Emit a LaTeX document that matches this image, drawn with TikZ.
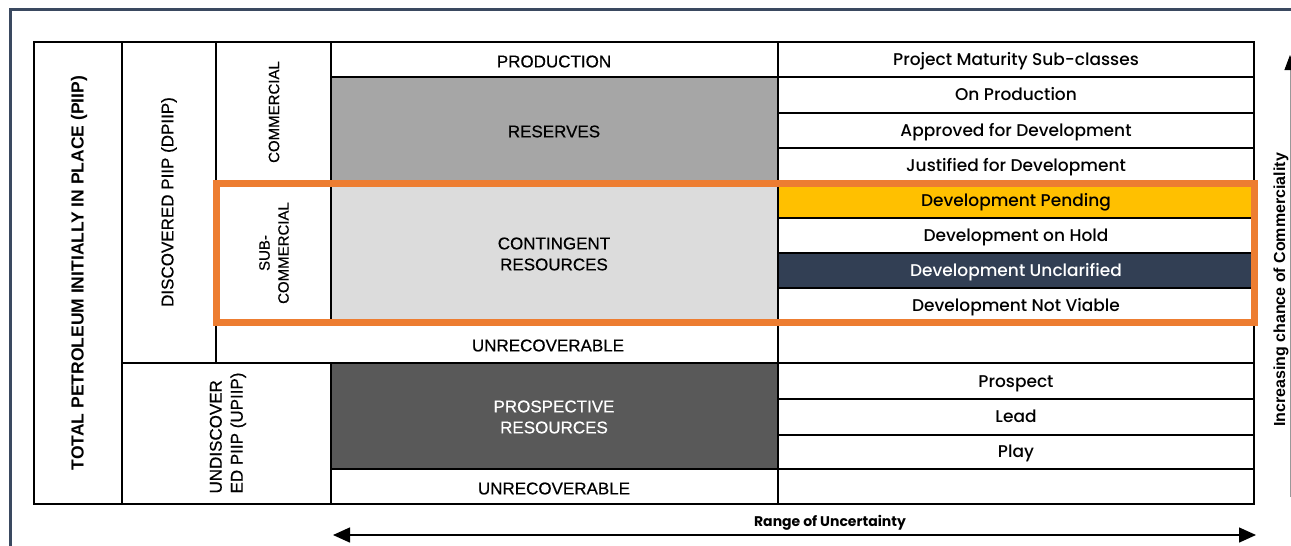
\documentclass[tikz,border=0pt]{standalone}
\usepackage{fontspec}
\setmainfont{Liberation Sans}
\newfontfamily\hdrfont{Liberation Sans}[FakeBold=0.5]
\newfontfamily\popfont{Poppins}[UprightFont=* Medium, BoldFont=* Bold]
\usetikzlibrary{arrows.meta}
\definecolor{framenavy}{HTML}{3A4960}
\definecolor{navyfill}{HTML}{323F54}
\definecolor{pendyellow}{HTML}{FFC000}
\definecolor{boxorange}{HTML}{ED7D31}
\definecolor{resgray}{HTML}{A6A6A6}
\definecolor{contgray}{HTML}{DCDCDC}
\definecolor{prospgray}{HTML}{595959}
\tikzset{
  gridline/.style={line width=2.6pt, draw=black},
  hdr/.style={font=\hdrfont\fontsize{17}{21}\selectfont, align=center, inner sep=0pt},
  smallhdr/.style={font=\hdrfont\fontsize{15}{19}\selectfont, align=center, inner sep=0pt},
  subtext/.style={font=\popfont\fontsize{17}{20}\selectfont, inner sep=0pt, text height=12pt, text depth=3.5pt},
}
\def\subrow(#1)#2#3{\node[subtext] (#2) at (1016,#1) {#3};}

\begin{document}
\begin{tikzpicture}[x=1pt,y=-1pt]
		%%%%% START %%%%%
		\useasboundingbox (0,0) rectangle (1291,546);
		
		% outer frame
		\draw[line width=3pt, framenavy] (10,546) -- (10,9) -- (1291,9);
		
		% fills
		\fill[resgray] (331,77) rectangle (778,183);
		\fill[contgray] (331,183) rectangle (778,323);
		\fill[prospgray] (331,363) rectangle (778,469);
		\fill[pendyellow] (778,183) rectangle (1254,218);
		\fill[navyfill] (778,253) rectangle (1254,288);
		
		% table lines
		\draw[gridline] (34,42) rectangle (1254,504);
		\draw[gridline] (122,42) -- (122,504);
		\draw[gridline] (216,42) -- (216,363);
		\draw[gridline] (331,42) -- (331,323);
		\draw[gridline] (331,363) -- (331,504);
		\draw[gridline] (778,42) -- (778,504);
		\draw[gridline] (331,77) -- (1254,77);
		\draw[gridline] (216,183) -- (1254,183);
		\draw[gridline] (216,323) -- (1254,323);
		\draw[gridline] (122,363) -- (1254,363);
		\draw[gridline] (331,469) -- (1254,469);
		\foreach \y in {113,148,218,253,288,399,435}
			\draw[gridline] (778,\y) -- (1254,\y);
		
		% left headers
		\node[hdr, rotate=90, font=\bfseries\fontsize{17.5}{21}\selectfont] (piip) at (79,273) {TOTAL PETROLEUM INITIALLY IN PLACE (PIIP)};
		\node[hdr, rotate=90] (dpiip) at (169,202) {DISCOVERED PIIP (DPIIP)};
		\node[hdr, rotate=90, align=left] (upiip) at (228,433) {UNDISCOVER\\ED PIIP (UPIIP)};
		\node[smallhdr, rotate=90] (comm) at (274,112) {COMMERCIAL};
		\node[smallhdr, rotate=90] (subcomm) at (274,253) {SUB-\\COMMERCIAL};
		
		% middle column
		\node[hdr] (prod) at (554,61.5) {PRODUCTION};
		\node[hdr] (res) at (554,131.5) {RESERVES};
		\node[hdr] (cont) at (554,254) {CONTINGENT\\RESOURCES};
		\node[hdr] (unrecA) at (548,345.5) {UNRECOVERABLE};
		\node[hdr, white] (prosp) at (554,417) {PROSPECTIVE\\RESOURCES};
		\node[hdr] (unrecB) at (554,488.5) {UNRECOVERABLE};
		
		% maturity sub-classes
		\subrow(61){pms}{Project Maturity Sub-classes}
		\subrow(96.5){onprod}{On Production}
		\subrow(132){approved}{Approved for Development}
		\subrow(167){justified}{Justified for Development}
		\subrow(202){pending}{Development Pending}
		\subrow(237){onhold}{Development on Hold}
		\node[subtext, white] (unclar) at (1016,272) {Development Unclarified};
		\subrow(307){notviable}{Development Not Viable}
		\subrow(383){prospect}{Prospect}
		\subrow(418.5){lead}{Lead}
		\subrow(453.5){play}{Play}
		
		% highlight box
		\draw[line width=7pt, boxorange] (216,183) rectangle (1254,322);
		
		% axes
		\coordinate (uncL) at (333,535);
		\coordinate (uncR) at (1256,535);
		\draw[{Triangle[length=17pt,width=15pt]}-{Triangle[length=17pt,width=15pt]}, line width=1.5pt] (uncL) -- (uncR);
		\node[font=\popfont\bfseries\fontsize{14}{16}\selectfont, inner sep=0pt] (range) at (830,523) {Range of Uncertainty};
		
		\coordinate (comB) at (1290,497);
		\coordinate (comT) at (1290,55);
		\draw[-{Triangle[length=15pt,width=11pt,color=black]}, line width=1pt, black!40] (comB) -- (comT);
		\node[rotate=90, font=\bfseries\fontsize{16}{18}\selectfont, inner sep=0pt] (chance) at (1281,290) {Increasing chance of Commerciality};
		
		%%%%% END %%%%%
\end{tikzpicture}
\end{document}
